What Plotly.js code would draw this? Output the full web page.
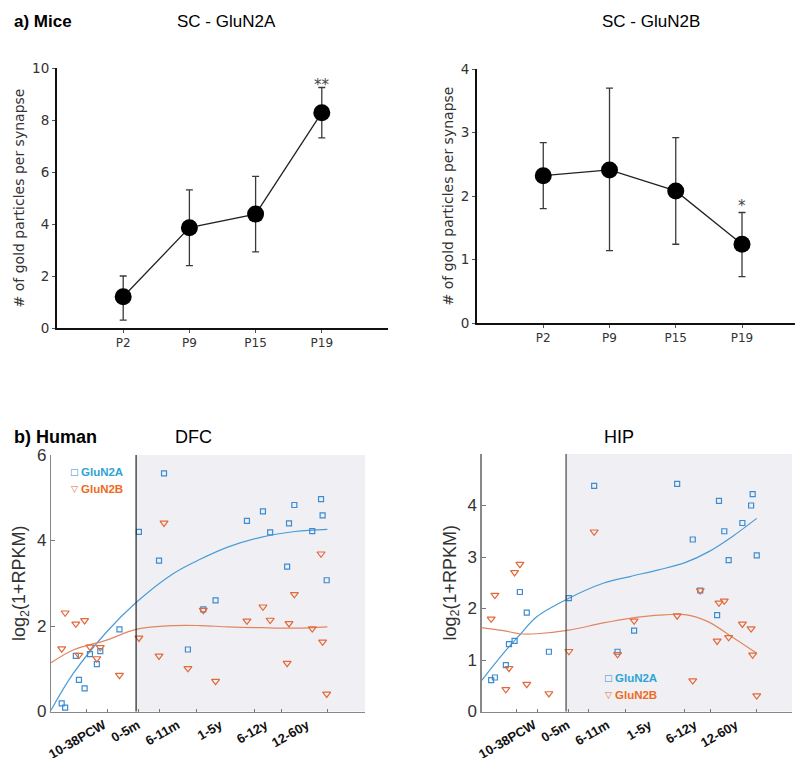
<!DOCTYPE html>
<html>
<head>
<meta charset="utf-8">
<script src="https://cdn.plot.ly/plotly-3.0.1.min.js"></script>
<style>html,body{margin:0;padding:0;background:#fff}#chart{width:795px;height:758px}</style>
</head>
<body>
<div id="chart"></div>
<script>
// ---------- a) Mice ----------
const ages = ['P2', 'P9', 'P15', 'P19'];
const n2aMean = [1.2, 3.86, 4.38, 8.28];
const n2aErrUp = [0.8, 1.45, 1.45, 0.97];
const n2aErrDown = [0.9, 1.46, 1.45, 0.97];
const n2bMean = [2.32, 2.41, 2.08, 1.24];
const n2bErrUp = [0.52, 1.29, 0.84, 0.5];
const n2bErrDown = [0.52, 1.27, 0.84, 0.51];

// ---------- b) Human ----------
const ageTickVals = [16.8, 27.6, 40.3, 53.8, 68.3, 81.5];
const ageTickText = ['10-38PCW', '0-5m', '6-11m', '1-5y', '6-12y', '12-60y'];
const sampleTicks = [11.2, 17.9, 28.0, 34.4, 46.3, 64.9, 73.3, 88.0];
const birthAge = 27.1;
const seriesNames = ['GluN2A', 'GluN2B'];

// DFC samples
const dfcAge = [3.4, 4.5, 7.9, 8.9, 10.7, 12.4, 14.6, 15.7, 21.8, 28.0, 34.4, 36.0, 43.6,
  48.5, 52.4, 62.4, 67.5, 69.8, 75.2, 75.8, 77.5, 83.2, 86.0, 86.5, 87.8];
const dfcN2A = [0.19, 0.09, 1.30, 0.74, 0.54, 1.34, 1.11, 1.41, 1.92, 4.20, 3.53, 5.57, 1.45,
  2.39, 2.60, 4.46, 4.68, 4.19, 3.39, 4.40, 4.83, 4.22, 4.97, 4.59, 3.07];
const dfcN2B = [1.47, 2.31, 2.05, 1.32, 2.13, 1.51, 1.24, 1.50, 0.85, 1.72, 1.30, 4.41, 1.01,
  2.37, 0.71, 2.12, 2.45, 2.14, 1.13, 2.06, 2.74, 1.94, 3.69, 1.63, 0.41];
const dfcFitAge = [0, 7.1, 17.7, 27.1, 39, 47.5, 56.5, 67.1, 77.7, 88];
const dfcFitN2A = [0.03, 0.89, 1.86, 2.55, 3.23, 3.56, 3.85, 4.08, 4.21, 4.26];
const dfcFitN2B = [1.14, 1.44, 1.67, 1.92, 2.01, 2.01, 1.98, 1.96, 1.95, 1.98];

// HIP samples
const hipAge = [3.1, 4.3, 7.8, 8.8, 10.6, 12.3, 14.5, 21.6, 28.0, 36.1, 43.6,
  48.9, 62.7, 67.7, 70.1, 75.5, 76.1, 77.8, 79.2, 83.6, 86.4, 86.9, 88.2];
const hipN2A = [0.61, 0.66, 0.90, 1.31, 1.37, 2.32, 1.92, 1.16, 2.20, 4.38, 1.16,
  1.57, 4.42, 3.34, 2.35, 1.87, 4.09, 3.50, 2.94, 3.66, 4.00, 4.22, 3.03];
const hipN2B = [1.80, 2.26, 0.43, 0.84, 2.70, 2.86, 0.53, 0.35, 1.17, 3.49, 1.11,
  1.76, 1.86, 0.60, 2.35, 1.37, 2.11, 2.15, 1.44, 1.70, 1.61, 1.10, 0.31];
const hipFitAge = [0, 7, 12.3, 17.7, 28, 39, 47.6, 56.7, 65.2, 72.7, 80.2, 88.2];
const hipFitN2A = [0.60, 1.13, 1.49, 1.84, 2.20, 2.49, 2.62, 2.75, 2.89, 3.10, 3.39, 3.75];
const hipFitN2B = [1.63, 1.57, 1.51, 1.51, 1.58, 1.72, 1.81, 1.87, 1.88, 1.74, 1.45, 1.13];

const BLUE = '#3d8bd0', ORANGE = '#e2693a';
const BLUE_LINE = '#4a9bd6', ORANGE_LINE = '#e28662';
const BLUE_TXT = '#2fa3d4', ORANGE_TXT = '#f06a22';

const miceMarker = {color: '#000', size: 17};
const errStyle = {type: 'data', symmetric: false, color: '#3a3a3a', thickness: 1.3, width: 3.5};
const sqMarker = {symbol: 'square-open', size: 5, color: BLUE, line: {width: 1.2}};
const triMarker = {symbol: 'triangle-down-open', size: 7, color: ORANGE, line: {width: 1.2}};

const traces = [
  {x: ages, y: n2aMean, xaxis: 'x', yaxis: 'y', mode: 'lines+markers', type: 'scatter',
   line: {color: '#222', width: 1.3}, marker: miceMarker,
   error_y: Object.assign({array: n2aErrUp, arrayminus: n2aErrDown}, errStyle)},
  {x: ages, y: n2bMean, xaxis: 'x2', yaxis: 'y2', mode: 'lines+markers', type: 'scatter',
   line: {color: '#222', width: 1.3}, marker: miceMarker,
   error_y: Object.assign({array: n2bErrUp, arrayminus: n2bErrDown}, errStyle)},
  // DFC
  {x: dfcFitAge, y: dfcFitN2A, xaxis: 'x3', yaxis: 'y3', mode: 'lines', line: {color: BLUE_LINE, width: 1.2, shape: 'spline'}},
  {x: dfcFitAge, y: dfcFitN2B, xaxis: 'x3', yaxis: 'y3', mode: 'lines', line: {color: ORANGE_LINE, width: 1.2, shape: 'spline'}},
  {x: dfcAge, y: dfcN2A, xaxis: 'x3', yaxis: 'y3', mode: 'markers', name: seriesNames[0], marker: sqMarker},
  {x: dfcAge, y: dfcN2B, xaxis: 'x3', yaxis: 'y3', mode: 'markers', name: seriesNames[1], marker: triMarker},
  // HIP
  {x: hipFitAge, y: hipFitN2A, xaxis: 'x4', yaxis: 'y4', mode: 'lines', line: {color: BLUE_LINE, width: 1.2, shape: 'spline'}},
  {x: hipFitAge, y: hipFitN2B, xaxis: 'x4', yaxis: 'y4', mode: 'lines', line: {color: ORANGE_LINE, width: 1.2, shape: 'spline'}},
  {x: hipAge, y: hipN2A, xaxis: 'x4', yaxis: 'y4', mode: 'markers', name: seriesNames[0], marker: sqMarker},
  {x: hipAge, y: hipN2B, xaxis: 'x4', yaxis: 'y4', mode: 'markers', name: seriesNames[1], marker: triMarker}
];

const H = 758, W = 795;
const px = v => v / W, py = v => (H - v) / H;

const miceFont = {family: 'DejaVu Sans, Verdana, sans-serif', size: 12, color: '#333'};
function miceX(domain, range, anchor) {
  return {domain: domain, range: range, anchor: anchor, type: 'category', showline: true, linecolor: '#111', linewidth: 2,
    ticks: 'outside', ticklen: 3, tickcolor: '#555', tickfont: miceFont, showgrid: false, zeroline: false, fixedrange: true};
}
function miceY(domain, range, dtick, anchor) {
  return {domain: domain, range: range, dtick: dtick, anchor: anchor, showline: true, linecolor: '#111', linewidth: 2,
    ticks: 'outside', ticklen: 3, tickcolor: '#555', tickfont: {family: miceFont.family, size: 13.5, color: '#333'},
    showgrid: false, zeroline: false, fixedrange: true,
    title: {text: '# of gold particles per synapse', font: {family: miceFont.family, size: 14, color: '#333'}, standoff: 4}};
}
const humanTickFont = {family: 'Liberation Sans, Arial, sans-serif', size: 17, color: '#333'};
function humanX(domain, range, anchor) {
  return {domain: domain, range: range, anchor: anchor, showline: true, linecolor: '#888', linewidth: 1.2, mirror: false,
    tickmode: 'array', tickvals: ageTickVals, ticktext: ageTickText, tickangle: -30, ticks: '',
    tickfont: {family: 'Liberation Sans, Arial, sans-serif', size: 13, color: '#111', weight: 'bold'},
    minor: {tickmode: 'array', tickvals: sampleTicks, ticks: 'inside', ticklen: 3, tickcolor: '#777', showgrid: false},
    showgrid: false, zeroline: false, fixedrange: true};
}
function humanY(domain, range, tickvals, anchor) {
  return {domain: domain, range: range, anchor: anchor, tickmode: 'array', tickvals: tickvals, showline: true, linecolor: '#888', linewidth: 1.2,
    ticks: 'inside', ticklen: 4, tickcolor: '#777', tickfont: humanTickFont, showgrid: false, zeroline: false, fixedrange: true,
    title: {text: 'log<sub>2</sub>(1+RPKM)', font: {family: 'Liberation Sans, Arial, sans-serif', size: 18, color: '#333'}, standoff: 6}};
}

function legendAnn(xPx, yPx, glyph, glyphColor, label, labelColor, glyphSize) {
  return [
    {text: glyph, xref: 'paper', yref: 'paper', x: px(xPx), y: py(yPx), xanchor: 'center', yanchor: 'middle', showarrow: false,
     font: {family: 'DejaVu Sans, sans-serif', size: glyphSize, color: glyphColor}},
    {text: '<b>' + label + '</b>', xref: 'paper', yref: 'paper', x: px(xPx + 5), y: py(yPx), xanchor: 'left', yanchor: 'middle', showarrow: false,
     font: {family: 'Liberation Sans, Arial, sans-serif', size: 11.5, color: labelColor}}
  ];
}

const layout = {
  width: W, height: H, margin: {l: 0, r: 0, t: 0, b: 0}, showlegend: false,
  paper_bgcolor: '#fff', plot_bgcolor: 'rgba(0,0,0,0)',
  xaxis: miceX([px(57), px(388)], [-1, 4], 'y'),
  yaxis: miceY([py(328), py(68)], [0, 10], 2, 'x'),
  xaxis2: miceX([px(477), 1], [-1, 3.8], 'y2'),
  yaxis2: miceY([py(323), py(69)], [0, 4], 1, 'x2'),
  xaxis3: humanX([px(51), px(365)], [0, 100], 'y3'),
  yaxis3: humanY([py(711.5), py(455)], [0, 6], [0, 2, 4, 6], 'x3'),
  xaxis4: humanX([px(481.5), px(792)], [0, 99.5], 'y4'),
  yaxis4: humanY([py(711.5), py(454)], [0, 5], [0, 1, 2, 3, 4], 'x4'),
  shapes: [
    {type: 'rect', xref: 'x3', yref: 'y3 domain', x0: birthAge, x1: 100, y0: 0, y1: 1, fillcolor: '#f0f0f4', line: {width: 0}, layer: 'below'},
    {type: 'line', xref: 'x3', yref: 'y3 domain', x0: birthAge, x1: birthAge, y0: 0, y1: 1, line: {color: '#222', width: 1.2}},
    {type: 'rect', xref: 'x4', yref: 'y4 domain', x0: birthAge, x1: 99.5, y0: 0, y1: 1, fillcolor: '#f0f0f4', line: {width: 0}, layer: 'below'},
    {type: 'line', xref: 'x4', yref: 'y4 domain', x0: birthAge, x1: birthAge, y0: 0, y1: 1, line: {color: '#444', width: 1.2}}
  ],
  annotations: [
    {text: '<b>a) Mice</b>', xref: 'paper', yref: 'paper', x: px(12), y: py(22), xanchor: 'left', yanchor: 'middle', showarrow: false,
     font: {family: 'Liberation Sans, Arial, sans-serif', size: 17, color: '#000'}},
    {text: 'SC - GluN2A', xref: 'paper', yref: 'paper', x: px(226), y: py(22), xanchor: 'center', yanchor: 'middle', showarrow: false,
     font: {family: 'Liberation Sans, Arial, sans-serif', size: 17, color: '#000'}},
    {text: 'SC - GluN2B', xref: 'paper', yref: 'paper', x: px(651), y: py(22), xanchor: 'center', yanchor: 'middle', showarrow: false,
     font: {family: 'Liberation Sans, Arial, sans-serif', size: 17, color: '#000'}},
    {text: '<b>b) Human</b>', xref: 'paper', yref: 'paper', x: px(12), y: py(437), xanchor: 'left', yanchor: 'middle', showarrow: false,
     font: {family: 'Liberation Sans Narrow, Liberation Sans, Arial, sans-serif', size: 18, color: '#000'}},
    {text: 'DFC', xref: 'paper', yref: 'paper', x: px(193), y: py(437), xanchor: 'center', yanchor: 'middle', showarrow: false,
     font: {family: 'Liberation Sans Narrow, Liberation Sans, Arial, sans-serif', size: 18, color: '#000'}},
    {text: 'HIP', xref: 'paper', yref: 'paper', x: px(619), y: py(437), xanchor: 'center', yanchor: 'middle', showarrow: false,
     font: {family: 'Liberation Sans Narrow, Liberation Sans, Arial, sans-serif', size: 18, color: '#000'}},
    {text: '**', xref: 'x', yref: 'y', x: 'P19', y: 9.35, showarrow: false, yanchor: 'middle',
     font: {family: 'DejaVu Sans, sans-serif', size: 15, color: '#444'}},
    {text: '*', xref: 'x2', yref: 'y2', x: 'P19', y: 1.84, showarrow: false, yanchor: 'middle',
     font: {family: 'DejaVu Sans, sans-serif', size: 15, color: '#444'}}
  ].concat(
    legendAnn(74, 472, '□', BLUE, seriesNames[0], BLUE_TXT, 9),
    legendAnn(74, 489, '▽', ORANGE, seriesNames[1], ORANGE_TXT, 9),
    legendAnn(608, 678, '□', BLUE, seriesNames[0], BLUE_TXT, 9),
    legendAnn(608, 695, '▽', ORANGE, seriesNames[1], ORANGE_TXT, 9)
  )
};

Plotly.newPlot('chart', traces, layout, {displayModeBar: false, staticPlot: true});
</script>
</body>
</html>
